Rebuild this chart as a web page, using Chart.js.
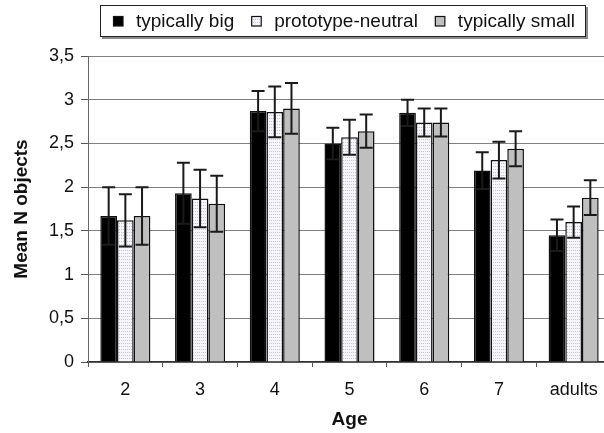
<!DOCTYPE html>
<html>
<head>
<meta charset="utf-8">
<script src="https://cdn.jsdelivr.net/npm/chart.js@4.4.1/dist/chart.umd.min.js"></script>
<style>
  html, body { margin: 0; padding: 0; background: #fff; }
  #wrap { width: 604px; height: 433px; overflow: hidden; position: relative; }
  canvas { display: block; }
</style>
</head>
<body>
<div id="wrap"><canvas id="ages" width="612" height="433"></canvas></div>
<script>
// values
const ages = ["2", "3", "4", "5", "6", "7", "adults"];
const seriesNames = ["typically big", "prototype-neutral", "typically small"];
const bigMean = [1.67, 1.93, 2.87, 2.50, 2.85, 2.19, 1.45];
const bigErr = [0.33, 0.35, 0.23, 0.18, 0.15, 0.21, 0.18];
const neutralMean = [1.62, 1.87, 2.86, 2.57, 2.74, 2.31, 1.60];
const neutralErr = [0.30, 0.33, 0.29, 0.20, 0.16, 0.21, 0.18];
const smallMean = [1.67, 1.81, 2.90, 2.64, 2.74, 2.44, 1.88];
const smallErr = [0.33, 0.32, 0.29, 0.19, 0.16, 0.20, 0.20];
const yTicks = [0, 0.5, 1, 1.5, 2, 2.5, 3, 3.5];

const FONT = "'Liberation Sans', Arial, Helvetica, sans-serif";

function dotPattern() {
  const c = document.createElement("canvas");
  c.width = 4; c.height = 3;
  const g = c.getContext("2d");
  g.fillStyle = "#f6f6fa";
  g.fillRect(0, 0, 4, 3);
  g.fillStyle = "#c2c5e0";
  g.fillRect(1, 1, 1, 1);
  g.fillRect(3, 1, 1, 1);
  return g.createPattern(c, "repeat");
}

const fills = ["#000000", dotPattern(), "#bfbfbf"];
const errs = [bigErr, neutralErr, smallErr];

// error bars drawn through the y scale
const errorBars = {
  id: "errorBars",
  afterDatasetsDraw(chart) {
    const ctx = chart.ctx, y = chart.scales.y;
    ctx.save();
    ctx.strokeStyle = "#1a1a1a";
    ctx.lineWidth = 2;
    chart.data.datasets.forEach((ds, i) => {
      chart.getDatasetMeta(i).data.forEach((bar, j) => {
        const v = ds.data[j], e = ds.err[j];
        const top = y.getPixelForValue(v + e), bot = y.getPixelForValue(v - e);
        const half = 6.5;
        ctx.beginPath();
        ctx.moveTo(bar.x, top); ctx.lineTo(bar.x, bot);
        ctx.moveTo(bar.x - half, top); ctx.lineTo(bar.x + half, top);
        ctx.moveTo(bar.x - half, bot); ctx.lineTo(bar.x + half, bot);
        ctx.stroke();
      });
    });
    ctx.restore();
  }
};

// boxed legend like the original
const boxLegend = {
  id: "boxLegend",
  afterDraw(chart) {
    const ctx = chart.ctx;
    ctx.save();
    ctx.fillStyle = "#fff";
    ctx.strokeStyle = "#8a8a8a";
    ctx.lineWidth = 2;
    ctx.beginPath(); ctx.moveTo(102, 38); ctx.lineTo(587, 38); ctx.lineTo(587, 7); ctx.stroke();
    ctx.strokeStyle = "#222";
    ctx.lineWidth = 1;
    ctx.fillRect(100.5, 5.5, 485, 31);
    ctx.strokeRect(100.5, 5.5, 485, 31);
    ctx.font = "19px " + FONT;
    ctx.textBaseline = "middle";
    let x = 113;
    chart.data.datasets.forEach((ds) => {
      ctx.fillStyle = ds.backgroundColor;
      ctx.fillRect(x, 16, 10, 10);
      ctx.strokeStyle = "#111";
      ctx.lineWidth = 1.2;
      ctx.strokeRect(x + 0.5, 16.5, 9.5, 9.5);
      ctx.fillStyle = "#111";
      ctx.fillText(ds.label, x + 23, 22);
      x += 23 + ctx.measureText(ds.label).width + 17;
    });
    ctx.restore();
  }
};

new Chart(document.getElementById("ages"), {
  type: "bar",
  data: {
    labels: ages,
    datasets: [bigMean, neutralMean, smallMean].map((d, i) => ({
      label: seriesNames[i],
      data: d,
      err: errs[i],
      backgroundColor: fills[i],
      borderColor: "#111",
      borderWidth: 1.5,
      categoryPercentage: 0.67,
      barPercentage: 1.0
    }))
  },
  options: {
    responsive: false,
    animation: false,
    devicePixelRatio: 1,
    layout: { padding: { top: 56, right: 1, left: 0, bottom: 0 } },
    plugins: { legend: { display: false }, tooltip: { enabled: false } },
    scales: {
      x: {
        afterFit(s) { s.height = 71; },
        grid: { offset: true, drawOnChartArea: false, drawTicks: true, tickLength: 5, color: "#555", lineWidth: 1 },
        border: { display: true, color: "#333", width: 1.5 },
        ticks: { color: "#111", padding: 12, font: { family: FONT, size: 18 } },
        title: { display: true, text: "Age", color: "#111", padding: { bottom: 2 }, font: { family: FONT, size: 19, weight: "bold" } }
      },
      y: {
        min: 0, max: 3.5,
        afterFit(s) { s.width = 88; },
        afterBuildTicks(s) { s.ticks = yTicks.map((v) => ({ value: v })); },
        grid: { color: "#808080", lineWidth: 1, tickLength: 7, tickColor: "#555" },
        border: { display: true, color: "#666", width: 1 },
        ticks: {
          color: "#111", padding: 7, font: { family: FONT, size: 18 },
          callback: (v) => String(v).replace(".", ",")
        },
        title: { display: true, text: "Mean N objects", color: "#111", padding: { top: 10 }, font: { family: FONT, size: 19, weight: "bold" } }
      }
    }
  },
  plugins: [errorBars, boxLegend]
});
</script>
</body>
</html>
